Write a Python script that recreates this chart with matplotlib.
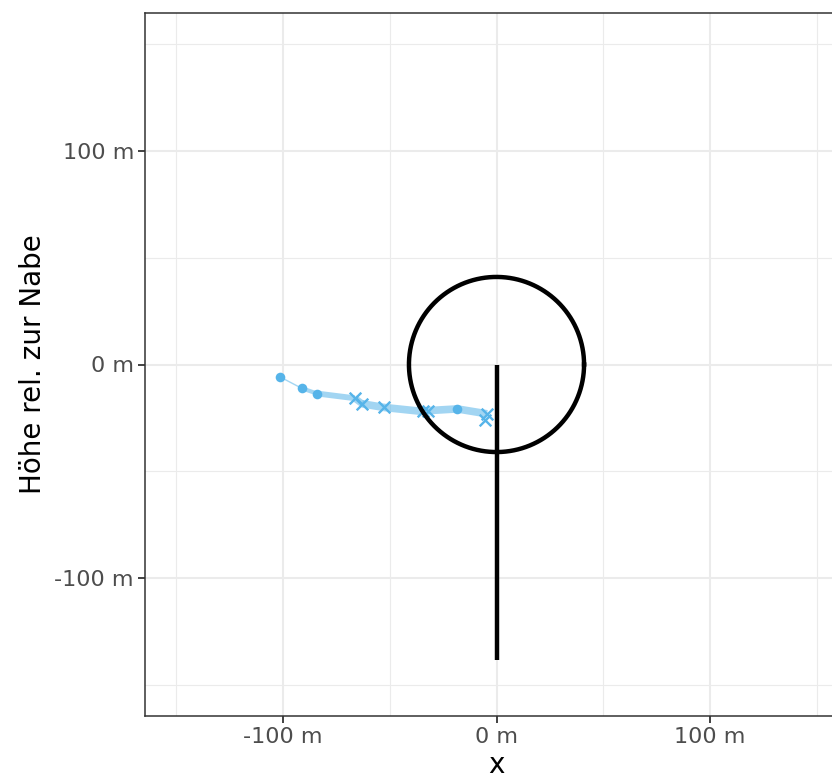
import numpy as np
import matplotlib
matplotlib.use("Agg")
import matplotlib.pyplot as plt

# Track points (m)
dot_x = [-101.2, -91.3, -84.0, -18.4]
dot_y = [-5.9, -11.1, -13.6, -20.8]
cross_x = [-66.4, -62.9, -52.8, -34.5, -32.0, -4.4, -5.6]
cross_y = [-15.8, -18.4, -20.1, -22.0, -21.6, -23.1, -26.2]
# Path (ordered)
path_x = [-101.2, -91.3, -84.0, -66.4, -62.9, -52.8, -34.5, -32.0, -18.4, -4.4]
path_y = [-5.9, -11.1, -13.6, -15.8, -18.4, -20.1, -22.0, -21.6, -20.8, -23.1]
path_w = [1.0, 3.0, 4.2, 5.0, 5.5, 5.5, 5.5, 5.5, 5.5]

rotor_radius = 41.0
tower_top, tower_bottom = 0.0, -138.5

xticks = [-100, 0, 100]
yticks = [-100, 0, 100]
tick_labels = ["-100 m", "0 m", "100 m"]

fig = plt.figure(figsize=(8.32, 7.81), dpi=100)
W, H = 832, 781
left, top = 145, 13
size_px = 703
ax = fig.add_axes([left / W, (H - top - size_px) / H, size_px / W, size_px / H])
lim = 164.6
ax.set_xlim(-lim, lim)
ax.set_ylim(-lim, lim)

for v in [-150, -50, 50, 150]:
    ax.axvline(v, color="#ebebeb", lw=0.8, zorder=0)
    ax.axhline(v, color="#ebebeb", lw=0.8, zorder=0)
for v in [-100, 0, 100]:
    ax.axvline(v, color="#ebebeb", lw=1.5, zorder=0)
    ax.axhline(v, color="#ebebeb", lw=1.5, zorder=0)

for i in range(len(path_x) - 1):
    ax.plot(path_x[i:i + 2], path_y[i:i + 2], color="#56B4E9", alpha=0.55,
            lw=path_w[i], solid_capstyle="butt", zorder=2)

ax.scatter(dot_x, dot_y, s=48, color="#56B4E9", zorder=3, linewidths=0)
ax.scatter(cross_x, cross_y, s=70, marker="x", color="#56B4E9", zorder=3, linewidths=1.7)

theta = np.linspace(0, 2 * np.pi, 400)
ax.plot(rotor_radius * np.cos(theta), rotor_radius * np.sin(theta), color="black", lw=3.2, zorder=4)
ax.plot([0, 0], [tower_top, tower_bottom], color="black", lw=3.2, solid_capstyle="butt", zorder=4)

ax.set_xticks(xticks)
ax.set_xticklabels(tick_labels)
ax.set_yticks(yticks)
ax.set_yticklabels(tick_labels)
ax.tick_params(colors="#333333", labelcolor="#4d4d4d", labelsize=16, length=5, width=1.3, pad=3)
for s in ax.spines.values():
    s.set_color("#333333")
    s.set_linewidth(1.1)
ax.set_xlabel("x", fontsize=20, labelpad=3)
ax.set_ylabel("Höhe rel. zur Nabe", fontsize=20, labelpad=5)

fig.savefig("out.png", dpi=100)
